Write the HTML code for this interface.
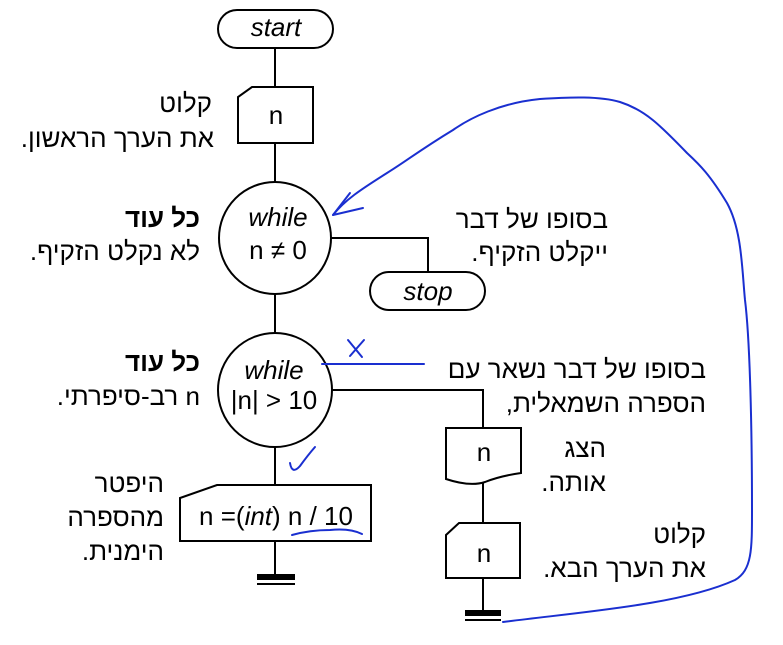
<html><body style="margin:0;background:#fff">
<svg width="783" height="645" xmlns="http://www.w3.org/2000/svg" style="font-family:'Liberation Sans',sans-serif">
<g fill="none" stroke="#000" stroke-width="2">
<rect x="218" y="10" width="115" height="38" rx="19" fill="#fff"/>
<line x1="275" y1="48" x2="275" y2="87"/>
<path d="M252 87 H313 V143 H238 V97 Z"/>
<line x1="275" y1="143" x2="275" y2="183"/>
<circle cx="275" cy="238" r="56"/>
<path d="M331 238 H428 V272"/>
<rect x="370" y="272" width="115" height="38" rx="19"/>
<line x1="275" y1="294" x2="275" y2="333"/>
<circle cx="275" cy="390" r="57"/>
<path d="M332 390 H483 V428"/>
<path d="M446 428 H521 V473 Q500 476 485 482 Q470 487 446 479 Z"/>
<line x1="483" y1="483" x2="483" y2="523"/>
<path d="M459 523 H520 V578 H446 V535 Z"/>
<line x1="483" y1="578" x2="483" y2="610"/>
<path d="M217 485 H371 V541 H180 V498 Z"/>
<line x1="275" y1="447" x2="275" y2="485"/>
<line x1="275" y1="541" x2="275" y2="575"/>
</g>
<rect x="257" y="574" width="38" height="6" fill="#000"/><rect x="257" y="583" width="38" height="2" fill="#000"/>
<rect x="465" y="610" width="36" height="6" fill="#000"/><rect x="465" y="619" width="36" height="2" fill="#000"/>
<g font-size="26" text-anchor="middle">
<text x="276" y="36" font-style="italic">start</text>
<text x="276" y="124">n</text>
<text x="278" y="226" font-style="italic">while</text>
<text x="278" y="259">n ≠ 0</text>
<text x="428" y="300" font-style="italic">stop</text>
<text x="274" y="379" font-style="italic">while</text>
<text x="274" y="409">|n| &gt; 10</text>
<text x="484" y="461">n</text>
<text x="484" y="562">n</text>
<text x="276" y="525">n =(<tspan font-style="italic">int</tspan>) n / 10</text>
</g>
<g font-size="26" text-anchor="start" direction="rtl" font-family="'Liberation Sans','Noto Sans CJK JP',sans-serif">
<text x="212" y="112">קלוט</text>
<text x="214" y="147">את הערך הראשון.</text>
<text x="200" y="227" font-weight="bold">כל עוד</text>
<text x="200" y="260">לא נקלט הזקיף.</text>
<text x="608" y="228">בסופו של דבר</text>
<text x="608" y="261">ייקלט הזקיף.</text>
<text x="200" y="371" font-weight="bold">כל עוד</text>
<text x="200" y="405">n רב-סיפרתי.</text>
<text x="706" y="378">בסופו של דבר נשאר עם</text>
<text x="706" y="412">הספרה השמאלית,</text>
<text x="606" y="457">הצג</text>
<text x="606" y="491">אותה.</text>
<text x="164" y="492">היפטר</text>
<text x="164" y="526">מהספרה</text>
<text x="164" y="560">הימנית.</text>
<text x="706" y="543">קלוט</text>
<text x="706" y="577">את הערך הבא.</text>
</g>
<g fill="none" stroke="#1a2fd0" stroke-width="2" stroke-linecap="round">
<path d="M503 622 C580 612 680 605 735 580 C752 570 752 550 752 510 C752 430 750 340 745 300 C742 270 742 230 727 203 C710 175 700 165 687 153 C660 125 645 110 620 102 C600 96 570 97 540 99 C500 103 470 118 453 130 C420 150 405 162 387 173 C360 190 345 200 333 215"/>
<path d="M333 215 L350 193 M333 215 L363 208"/>
<path d="M348 340 L362 357 M364 340 L350 356"/>
<line x1="322" y1="364" x2="424" y2="364"/>
<path d="M290 463 Q292 475 300 466 Q308 455 315 447"/>
<path d="M292 535 Q310 530 330 530 Q350 528 362 534"/>
</g>
</svg>
</body></html>
